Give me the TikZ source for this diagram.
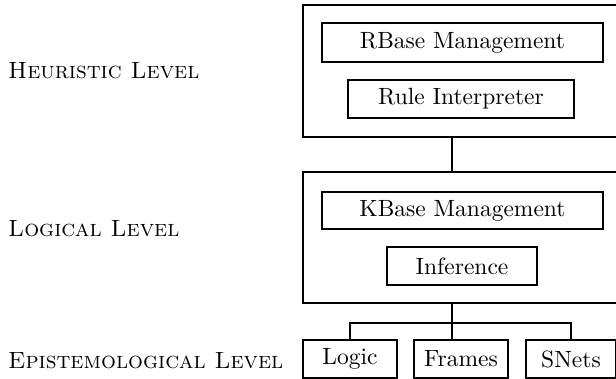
\documentclass[tikz,border=0pt]{standalone}
\usetikzlibrary{positioning}
\font\boxfont="[lmroman10-regular]" at 23.5pt
\font\capsfont="[lmromancaps10-regular]" at 23.5pt
\begin{document}
\begin{tikzpicture}[x=1pt, y=1pt, line join=miter, line cap=rect]
	\tikzset{every node/.style={font=\boxfont},
		box/.style={draw, line width=1.9pt, inner sep=0pt},
		level/.style={anchor=base west, inner sep=0pt, font=\capsfont}}
	\clip (0,0) rectangle (616,-379);
	\useasboundingbox (0,0) rectangle (616,-379);
	\coordinate (spine) at (452,0);
	% levels on the left
	\node[level] (hl) at (8,-79) {Heuristic Level};
	\node[level] (ll) at (8,-237) {Logical Level};
	\node[level] (el) at (8,-368) {Epistemological Level};
	% outer boxes, running off to the right
	\node[box, minimum width=327, minimum height=132] (heur) at (466.5,-71) {};
	\node[box, minimum width=327, minimum height=131] (logic) at (466.5,-237.5) {};
	% heuristic level
	\node[box, minimum width=281, minimum height=39] (rbase) at (462.5,-42.5) {RBase Management};
	\node[box, minimum width=226, minimum height=38] (rint) at (461,-99) {Rule Interpreter};
	% logical level
	\node[box, minimum width=281, minimum height=37] (kbase) at (462.5,-210.5) {KBase Management};
	\node[box, minimum width=150, minimum height=38] (infer) at (462,-266) {Inference};
	% epistemological level
	\node[box, minimum width=94, minimum height=38] (lg) at (350,-359) {Logic};
	\node[box, minimum width=94, minimum height=38] (fr) at (461,-359) {Frames};
	\node[box, minimum width=90, minimum height=38] (sn) at (571,-359) {SNets};
	% connectors
	\draw[line width=1.9pt] (heur.south -| spine) -- (logic.north -| spine);
	\draw[line width=1.9pt] (logic.south -| spine) -- ++(0,-19) coordinate (fork);
	\draw[line width=1.9pt] (lg.north) |- (fork) -| (sn.north);
	\draw[line width=1.9pt] (fork) -- (fr.north -| spine);
\end{tikzpicture}
\end{document}
